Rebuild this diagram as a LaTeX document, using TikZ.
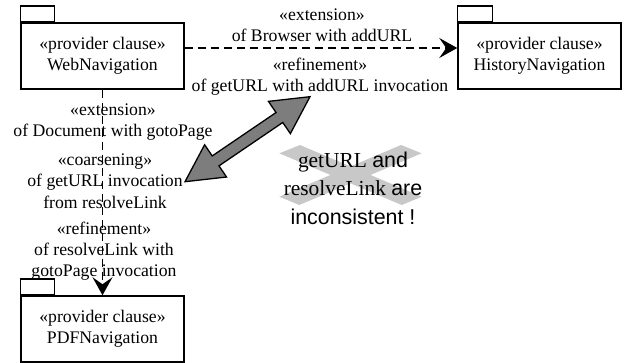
\documentclass[tikz,border=0pt]{standalone}
\usepackage{fontspec}
\setmainfont{Liberation Serif}
\newfontfamily\sansfam{Liberation Sans}
\usetikzlibrary{arrows.meta,calc}
\definecolor{crossgray}{RGB}{200,200,200}
\definecolor{arrowgray}{RGB}{125,125,125}
\begin{document}
\begin{tikzpicture}[x=1pt,y=-1pt,
  every node/.style={font=\fontsize{17.7}{21.3}\selectfont, inner sep=0pt, align=center},
  pkg/.style={draw, line width=1.5pt, minimum width=163pt, minimum height=66pt},
  tab/.style={draw, line width=1.5pt},
  dep/.style={line width=1.5pt, dash pattern=on 8pt off 5pt,
              -{Stealth[length=18pt,width=20pt,inset=7pt]}},
  lbl/.style={},
  warnfont/.style={font=\fontsize{21.4}{28.5}\selectfont},
  conflict/.style={draw=black, line width=1.3pt, fill=arrowgray, line join=miter},
]
\useasboundingbox (0,0) rectangle (627,363);

% packages
\node[pkg] (web)  at (102.5,56)  {«provider clause»\\WebNavigation};
\node[pkg] (hist) at (539.5,56)  {«provider clause»\\HistoryNavigation};
\node[pkg] (pdf)  at (102.5,329) {«provider clause»\\PDFNavigation};
\draw[tab] (web.north west)  rectangle ++(34,-16);
\draw[tab] (hist.north west) rectangle ++(35,-16);
\draw[tab] (pdf.north west)  rectangle ++(34,-16);

% light grey cross behind the warning
\fill[crossgray] (279.3,153.3) -- (300,145) -- (421.7,196.7) -- (401.7,205) -- cycle;
\fill[crossgray] (401,145) -- (421.7,153.3) -- (299.3,205) -- (279.3,196.7) -- cycle;

% dependency labels
\node[lbl] (extB)   at (322,25)  {«extension»\\of Browser with addURL};
\node[lbl] (refA)   at (320,77)  {«refinement»\\of getURL with addURL invocation};
\node[lbl] (extD)   at (113,122) {«extension»\\of Document with gotoPage};
\node[lbl] (coarse) at (105,181) {«coarsening»\\of getURL invocation\\from resolveLink};
\node[lbl] (refR)   at (104,251) {«refinement»\\of resolveLink with\\gotoPage invocation};

\node[warnfont] (warn) at (353,188)
  {getURL {\sansfam and}\\resolveLink {\sansfam are}\\{\sansfam inconsistent !}};

% dependencies
\draw[dep] ([yshift=8pt]web.east) -- ([yshift=8pt]hist.west);
\draw[dep] (web.south) -- (pdf.north);

% double-headed conflict arrow
\coordinate (p) at (185,181.7);
\coordinate (q) at (310,96.7);
\coordinate (b1) at ($(p)!37pt!(q)$);
\coordinate (b2) at ($(q)!37pt!(p)$);
\coordinate (b1l) at ($(b1)!19.5pt!90:(q)$);
\coordinate (b1r) at ($(b1)!19.5pt!-90:(q)$);
\coordinate (s1l) at ($(b1)!6pt!90:(q)$);
\coordinate (s1r) at ($(b1)!6pt!-90:(q)$);
\coordinate (b2l) at ($(b2)!19.5pt!-90:(p)$);
\coordinate (b2r) at ($(b2)!19.5pt!90:(p)$);
\coordinate (s2l) at ($(b2)!6pt!-90:(p)$);
\coordinate (s2r) at ($(b2)!6pt!90:(p)$);
\draw[conflict] (p) -- (b1l) -- (s1l) -- (s2l) -- (b2l) -- (q)
  -- (b2r) -- (s2r) -- (s1r) -- (b1r) -- cycle;
\end{tikzpicture}
\end{document}
